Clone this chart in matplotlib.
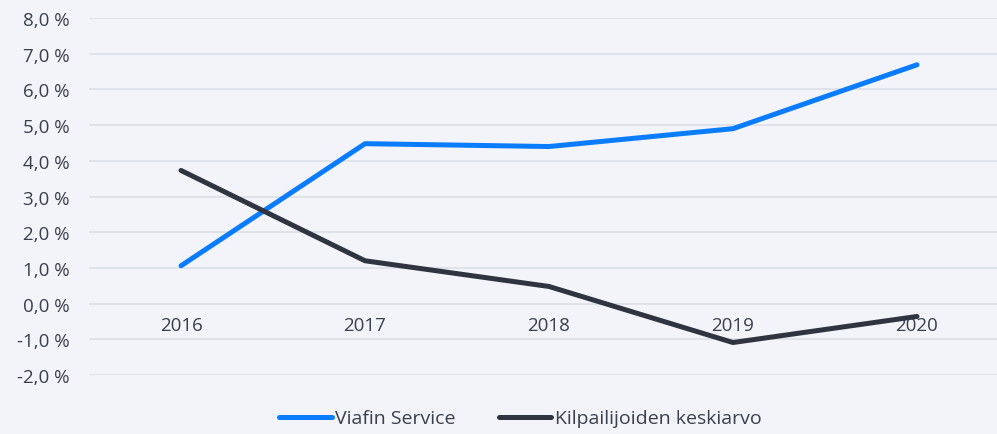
import matplotlib.pyplot as plt
from matplotlib.ticker import FuncFormatter

plt.rcParams['font.family'] = ['Open Sans', 'DejaVu Sans']

years = ['2016', '2017', '2018', '2019', '2020']
viafin = [1.06, 4.48, 4.40, 4.90, 6.69]
kilpailijat = [3.73, 1.20, 0.48, -1.09, -0.36]

bg = '#f3f4f9'
fig = plt.figure(figsize=(9.97, 4.35), dpi=100, facecolor=bg)
ax = fig.add_axes([0.0893, 0.1356, 0.9107, 0.8207], facecolor=bg)

x = range(len(years))
ax.plot(x, viafin, color='#0a7cff', lw=3.6, solid_capstyle='round', label='Viafin Service', clip_on=False, zorder=3)
ax.plot(x, kilpailijat, color='#2f3440', lw=3.6, solid_capstyle='round', label='Kilpailijoiden keskiarvo', clip_on=False, zorder=3)

ax.set_xlim(-0.5, 4.435)
ax.set_ylim(-2, 8)
ax.set_yticks(range(-2, 9))
ax.yaxis.set_major_formatter(FuncFormatter(lambda v, p: f'{v:.1f} %'.replace('.', ',')))
ax.set_xticks(list(x))
ax.set_xticklabels(years)
ax.grid(axis='y', color='#dde1e8', lw=1.3)
ax.set_axisbelow(True)
for s in ax.spines.values():
    s.set_visible(False)
ax.spines['bottom'].set_position(('data', 0))
ax.tick_params(axis='both', length=0, labelsize=13.5, colors='#3a3f4a')
ax.tick_params(axis='y', pad=14)
ax.tick_params(axis='x', pad=9)

fig.legend(loc='lower center', bbox_to_anchor=(0.522, -0.025), ncol=2, frameon=False,
           fontsize=14, handlelength=2.7, handletextpad=0.2, columnspacing=2.2,
           labelcolor='#3a3f4a')

fig.savefig('out.png', dpi=100, facecolor=bg)
